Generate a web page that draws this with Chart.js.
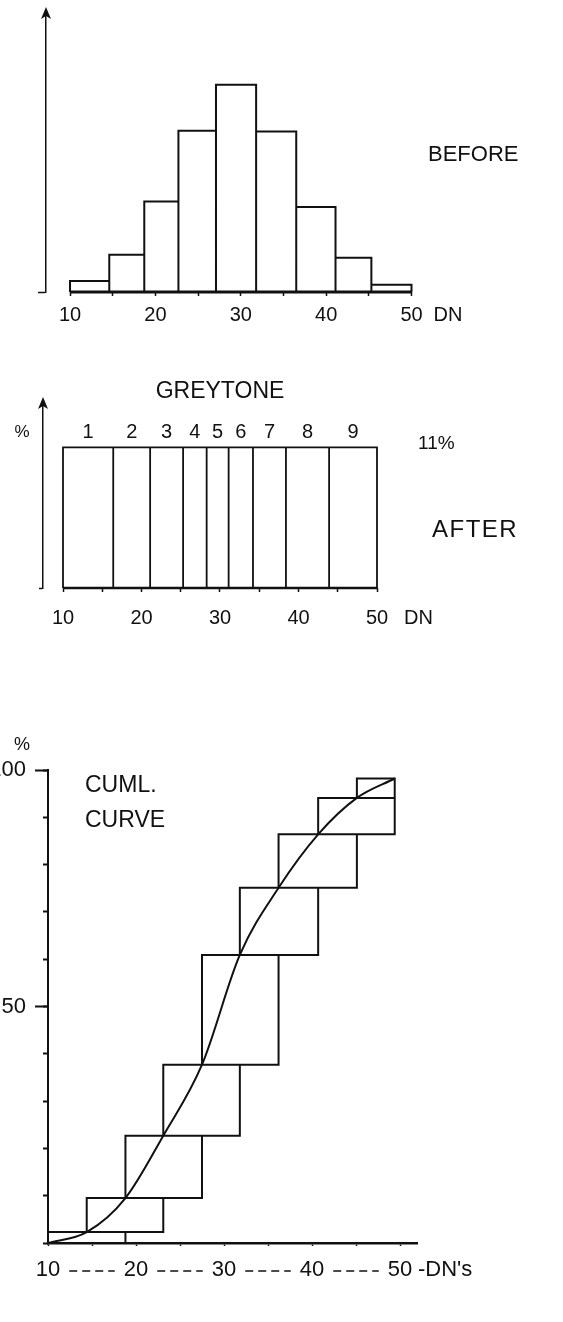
<!DOCTYPE html>
<html lang="en">
<head>
<meta charset="utf-8">
<title>Histogram equalisation</title>
<script src="https://cdn.jsdelivr.net/npm/chart.js@4.4.1/dist/chart.umd.min.js"></script>
<style>
  html, body { margin: 0; padding: 0; background: #fff; }
  body { position: relative; width: 563px; height: 1322px; overflow: hidden; }
  canvas { position: absolute; display: block; }
</style>
</head>
<body>
<canvas id="before" width="563" height="350" style="left:0;top:0"></canvas>
<canvas id="after" width="563" height="300" style="left:0;top:370px"></canvas>
<canvas id="cuml" width="583" height="602" style="left:-20px;top:720px"></canvas>
<script>
// ---- BEFORE: original grey-level histogram (% of pixels per DN class)
const beforeEdges = [10, 14.6, 18.7, 22.7, 27.1, 31.8, 36.5, 41.1, 45.3, 50];
const beforePct   = [1.4, 4.7, 11.4, 20.3, 26.1, 20.2, 10.7, 4.3, 0.9];

// ---- AFTER: equalised histogram, nine greytones holding 11% each
const greyEdges  = [10, 16.4, 21.1, 25.3, 28.3, 31.1, 34.2, 38.4, 43.9, 50];
const greyPct    = [11, 11, 11, 11, 11, 11, 11, 11, 11];
const greyLabels = ['1', '2', '3', '4', '5', '6', '7', '8', '9'];

// ---- Cumulative curve (DN, cumulative %)
const cumDN  = [10, 14.4, 18.8, 23.1, 27.5, 31.8, 36.2, 40.7, 45.1, 49.4];
const cumPct = [0, 2.3, 9.5, 22.7, 37.7, 60.9, 75.1, 86.4, 94.1, 98.2];

// ---- Axis ticks
const dnTicks     = [10, 15, 20, 25, 30, 35, 40, 45, 50];
const dnLabelled  = [10, 20, 30, 40, 50];
const pctTicks    = [0, 10, 20, 30, 40, 50, 60, 70, 80, 90, 100];
const pctLabelled = [50, 100];

const FONT = '"Liberation Sans", Arial, Helvetica, sans-serif';
const INK = '#111';

Chart.defaults.font.family = FONT;
Chart.defaults.color = INK;
Chart.defaults.animation = false;
Chart.defaults.plugins.legend.display = false;
Chart.defaults.plugins.tooltip.enabled = false;
Chart.defaults.elements.point.radius = 0;

// helpers --------------------------------------------------------------
const gap = x => ({ x, y: null });

// open-bottom outline of each histogram class
function barOutlines(edges, heights) {
  const pts = [];
  heights.forEach((h, i) => {
    pts.push({ x: edges[i], y: 0 }, { x: edges[i], y: h },
             { x: edges[i + 1], y: h }, { x: edges[i + 1], y: 0 }, gap(edges[i + 1]));
  });
  return pts;
}

// overlapping boxes that frame the cumulative staircase
function stepBoxes(xs, ys) {
  const pts = [], last = xs.length - 1;
  for (let k = 1; k <= last; k++) {
    const x0 = xs[k - 1], x1 = xs[Math.min(k + 1, last)], y0 = ys[k - 1], y1 = ys[k];
    pts.push({ x: x0, y: y0 }, { x: x0, y: y1 }, { x: x1, y: y1 },
             { x: x1, y: y0 }, { x: x0, y: y0 }, gap(x0));
  }
  return pts;
}

// padding that puts the plot area at the requested canvas box
function padFor(w, h, area, leftW, bottomH) {
  return { left: area.left - leftW, right: w - area.right, top: area.top, bottom: h - area.bottom - bottomH };
}

// DN range that places DN 10 and DN 50 at given pixels
function dnRange(area, at10, at50) {
  const k = (at50 - at10) / 40;
  return { min: 10 - (at10 - area.left) / k, max: 50 + (area.right - at50) / k };
}

function dnAxis(range, height, size, padding, tickLength, borderWidth) {
  return {
    type: 'linear', min: range.min, max: range.max,
    afterBuildTicks: s => { s.ticks = dnTicks.map(v => ({ value: v })); },
    afterFit: s => { s.height = height; },
    border: { display: borderWidth > 0, color: INK, width: borderWidth || 1 },
    grid: { display: true, drawOnChartArea: false, drawTicks: true, tickLength, tickWidth: 1.5, tickColor: INK },
    ticks: { autoSkip: false, maxRotation: 0, padding, color: INK, font: { size },
             callback: v => dnLabelled.includes(v) ? String(v) : '' }
  };
}

function bareY(max, width, tickLength) {
  return {
    type: 'linear', min: 0, max,
    afterBuildTicks: s => { s.ticks = [{ value: 0 }]; },
    afterFit: s => { s.width = width; },
    border: { display: true, color: INK, width: 1.5 },
    grid: { display: true, drawOnChartArea: false, tickLength, tickWidth: 1.5, tickColor: INK },
    ticks: { display: false }
  };
}

function label(ctx, txt, x, y, size, align, spacing) {
  ctx.save();
  ctx.font = size + 'px ' + FONT;
  ctx.fillStyle = INK;
  ctx.textAlign = align || 'left';
  ctx.textBaseline = 'middle';
  if (spacing) ctx.letterSpacing = spacing + 'px';
  ctx.fillText(txt, x, y);
  ctx.restore();
}

function arrowHead(ctx, x, y) {
  ctx.save();
  ctx.fillStyle = INK;
  ctx.beginPath();
  ctx.moveTo(x, y - 7);
  ctx.lineTo(x - 5, y + 5);
  ctx.lineTo(x, y + 2);
  ctx.lineTo(x + 5, y + 5);
  ctx.closePath();
  ctx.fill();
  ctx.restore();
}

// ---- chart 1: BEFORE ---------------------------------------------------
const area1 = { left: 46, right: 470, top: 14, bottom: 292 };
new Chart(document.getElementById('before'), {
  type: 'scatter',
  data: { datasets: [
    { data: barOutlines(beforeEdges, beforePct), showLine: true, borderColor: INK, borderWidth: 2,
      borderJoinStyle: 'miter', clip: false },
    { data: [{ x: beforeEdges[0], y: 0 }, { x: beforeEdges[beforeEdges.length - 1], y: 0 }],
      showLine: true, borderColor: INK, borderWidth: 3, clip: false }
  ] },
  options: {
    responsive: false,
    layout: { padding: padFor(563, 350, area1, 10, 40) },
    scales: {
      x: dnAxis(dnRange(area1, 70, 411.5), 40, 20, 7, 4, 0),
      y: bareY(35, 10, 8)
    }
  },
  plugins: [{
    id: 'beforeText',
    afterDraw(chart) {
      const { ctx, chartArea, scales: { x } } = chart;
      arrowHead(ctx, chartArea.left, chartArea.top);
      label(ctx, 'DN', x.getPixelForValue(50) + 22, 315, 20);
      label(ctx, 'BEFORE', 428, 155, 22);
    }
  }]
});

// ---- chart 2: AFTER ----------------------------------------------------
const area2 = { left: 43, right: 377, top: 34, bottom: 218 };
new Chart(document.getElementById('after'), {
  type: 'scatter',
  data: { datasets: [
    { data: barOutlines(greyEdges, greyPct), showLine: true, borderColor: INK, borderWidth: 1.8,
      borderJoinStyle: 'miter', clip: false },
    { data: [{ x: greyEdges[0], y: 0 }, { x: greyEdges[greyEdges.length - 1], y: 0 }],
      showLine: true, borderColor: INK, borderWidth: 2.5, clip: false }
  ] },
  options: {
    responsive: false,
    layout: { padding: padFor(563, 300, area2, 10, 40) },
    scales: {
      x: dnAxis(dnRange(area2, 63, 377), 40, 20, 14, 4, 0),
      y: bareY(14.4, 10, 4)
    }
  },
  plugins: [{
    id: 'afterText',
    afterDraw(chart) {
      const { ctx, chartArea, scales: { x, y } } = chart;
      arrowHead(ctx, chartArea.left, chartArea.top);
      greyLabels.forEach((t, i) => {
        const cx = x.getPixelForValue((greyEdges[i] + greyEdges[i + 1]) / 2);
        label(ctx, t, cx, y.getPixelForValue(greyPct[i]) - 15, 20, 'center');
      });
      label(ctx, 'GREYTONE', x.getPixelForValue(30), 22, 23, 'center');
      label(ctx, '%', 22, 62, 17, 'center');
      label(ctx, '11%', 418, 74, 19);
      label(ctx, 'AFTER', 432, 160, 24, 'left', 1.5);
      label(ctx, 'DN', x.getPixelForValue(50) + 27, 248, 20);
    }
  }]
});

// ---- chart 3: cumulative curve ------------------------------------------
const area3 = { left: 68, right: 437.6, top: 50, bottom: 523 };
new Chart(document.getElementById('cuml'), {
  type: 'scatter',
  data: { datasets: [
    { data: stepBoxes(cumDN, cumPct), showLine: true, borderColor: INK, borderWidth: 2,
      borderJoinStyle: 'miter', clip: false },
    { data: cumDN.map((d, i) => ({ x: d, y: cumPct[i] })), showLine: true, borderColor: INK,
      borderWidth: 2, cubicInterpolationMode: 'monotone', clip: false }
  ] },
  options: {
    responsive: false,
    layout: { padding: padFor(583, 602, area3, 68, 50) },
    scales: {
      x: dnAxis(dnRange(area3, 68, 420), 50, 22, 11, 3, 2.5),
      y: {
        type: 'linear', min: 0, max: 100, weight: 1,
        afterBuildTicks: s => { s.ticks = pctLabelled.map(v => ({ value: v })); },
        afterFit: s => { s.width = 68; },
        border: { display: true, color: INK, width: 2 },
        grid: { display: true, drawOnChartArea: false, tickLength: 13, tickWidth: 2, tickColor: INK },
        ticks: { padding: 9, color: INK, font: { size: 22 } }
      },
      yMinor: {
        type: 'linear', position: 'left', min: 0, max: 100, weight: 0,
        afterBuildTicks: s => { s.ticks = pctTicks.map(v => ({ value: v })); },
        afterFit: s => { s.width = 0; },
        border: { display: false },
        grid: { display: true, drawOnChartArea: false, tickLength: 5, tickWidth: 2, tickColor: INK },
        ticks: { display: false }
      }
    }
  },
  plugins: [{
    id: 'cumlText',
    afterDraw(chart) {
      const { ctx, scales: { x } } = chart;
      label(ctx, '%', 42, 25, 18, 'center');
      label(ctx, 'CUML.', 105, 66, 23);
      label(ctx, 'CURVE', 105, 101, 23);
      const midY = x.top + 3 + 11 + 13;
      label(ctx, "-DN's", x.getPixelForValue(50) + 18, midY, 22);
      // dashed leaders between the DN labels
      ctx.save();
      ctx.font = '22px ' + FONT;
      ctx.strokeStyle = INK;
      ctx.lineWidth = 1.5;
      ctx.setLineDash([8, 5]);
      for (let i = 0; i < dnLabelled.length - 1; i++) {
        const a = dnLabelled[i], b = dnLabelled[i + 1];
        const x0 = x.getPixelForValue(a) + ctx.measureText(String(a)).width / 2 + 9;
        const x1 = x.getPixelForValue(b) - ctx.measureText(String(b)).width / 2 - 9;
        ctx.beginPath();
        ctx.moveTo(x0, midY + 1);
        ctx.lineTo(x1, midY + 1);
        ctx.stroke();
      }
      ctx.restore();
    }
  }]
});
</script>
</body>
</html>
